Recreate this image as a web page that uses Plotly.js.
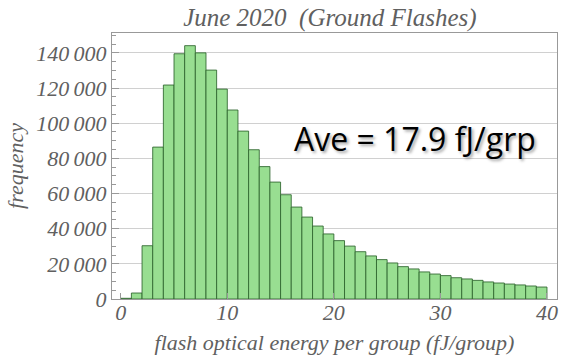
<!DOCTYPE html>
<html>
<head>
<meta charset="utf-8">
<script src="https://cdn.plot.ly/plotly-3.0.1.min.js"></script>
<style>html,body{margin:0;padding:0;background:#fff;}#chart{width:561px;height:358px;}</style>
</head>
<body>
<div id="chart"></div>
<script>
// Bin left edges (fJ/group), width 1
const binStarts = [0,1,2,3,4,5,6,7,8,9,10,11,12,13,14,15,16,17,18,19,20,21,22,23,24,25,26,27,28,29,30,31,32,33,34,35,36,37,38,39];
const binWidth = 1;
// Frequency per bin
const frequency = [400,3400,30300,86400,121700,139500,144100,140000,130200,119400,107500,95500,84900,75300,66500,59300,52300,46600,41500,37000,33200,30100,26900,24500,22400,20500,18400,17100,15400,14200,13300,12100,11400,10600,9700,9100,8500,8000,7400,6800];
const yTickVals = [0,20000,40000,60000,80000,100000,120000,140000];
const yTickText = ['0','20\u2009000','40\u2009000','60\u2009000','80\u2009000','100\u2009000','120\u2009000','140\u2009000'];
const xTickVals = [0,10,20,30,40];
const xTickText = ['0','10','20','30','40'];
const titleText = 'June 2020&#160; (Ground Flashes)';
const xTitle = 'flash optical energy per group (fJ/group)';
const yTitle = 'frequency';
const noteText = 'Ave = 17.9 fJ/grp';

const centers = binStarts.map(s => s + binWidth / 2);
const serif = 'Liberation Serif, Times New Roman, serif';
const gray = '#606060';
const ital = s => '<i>' + s + '</i>';

const trace = {
  type: 'bar',
  x: centers,
  y: frequency,
  width: binStarts.map(() => binWidth),
  marker: {color: 'rgb(152,222,145)', line: {color: 'rgba(45,100,45,0.85)', width: 1}},
  hoverinfo: 'skip'
};

const layout = {
  width: 561, height: 358,
  margin: {l: 112, r: 4, t: 33, b: 59, pad: 0},
  paper_bgcolor: '#fff', plot_bgcolor: '#fff',
  showlegend: false,
  bargap: 0,
  title: {text: ital(titleText), font: {family: serif, size: 25, color: gray, style: 'italic'}, x: 0.588, xanchor: 'center', y: 0.953, yanchor: 'middle'},
  xaxis: {
    range: [-0.82, 40.94],
    tickvals: xTickVals, ticktext: xTickText.map(ital),
    ticks: 'inside', ticklen: 6, tickcolor: '#999',
    ticklabelstandoff: -6,
    showgrid: false, zeroline: false,
    showline: true, linecolor: '#999', linewidth: 1, mirror: true,
    tickfont: {family: serif, size: 22, color: gray, style: 'italic'},
    title: {text: ital(xTitle), font: {family: serif, size: 22, color: gray, style: 'italic'}, standoff: 10}
  },
  yaxis: {
    range: [0, 151300],
    tickvals: yTickVals, ticktext: yTickText.map(ital),
    ticks: 'inside', ticklen: 7, tickcolor: '#999',
    minor: {dtick: 5000, tick0: 0, ticks: 'inside', ticklen: 4, tickcolor: '#999', showgrid: false},
    showgrid: true, gridcolor: '#d0d0d0', gridwidth: 1,
    zeroline: false,
    showline: true, linecolor: '#999', linewidth: 1, mirror: true,
    tickfont: {family: serif, size: 22, color: gray, style: 'italic'},
    title: {text: ital(yTitle), font: {family: serif, size: 22, color: gray, style: 'italic'}, standoff: 6}
  },
  annotations: [{
    text: noteText, xref: 'x', yref: 'y', x: 27.6, y: 91500,
    xanchor: 'center', yanchor: 'middle', showarrow: false,
    font: {family: 'Open Sans, sans-serif', size: 32, color: '#000', shadow: '2px 2px 3px rgba(0,0,0,0.35)'}
  }]
};

Plotly.newPlot('chart', [trace], layout, {staticPlot: true, displayModeBar: false});
</script>
</body>
</html>
